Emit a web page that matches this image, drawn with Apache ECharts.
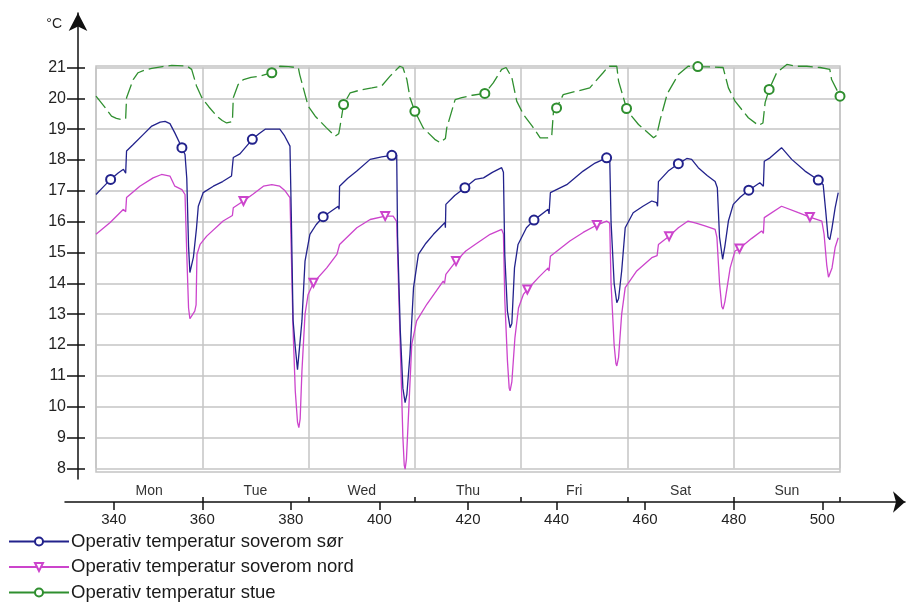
<!DOCTYPE html>
<html><head><meta charset="utf-8">
<script src="https://cdn.jsdelivr.net/npm/echarts@6/dist/echarts.min.js"></script>
<style>html,body{margin:0;padding:0;background:#fff}#c{width:907px;height:603px}</style>
</head><body><div id="c"></div>
<script>
const days = ['Mon','Tue','Wed','Thu','Fri','Sat','Sun'];
const dayCenters = [348,372,396,420,444,468,492];
const dayBounds = [360,384,408,432,456,480,504];
const xTickValues = [340,360,380,400,420,440,460,480,500];
const yTickValues = [8,9,10,11,12,13,14,15,16,17,18,19,20,21];

const sorHours = [336.0,337.6,339.3,341.0,342.2,342.7,342.9,344.4,346.7,348.6,350.5,351.6,352.7,353.8,355.4,356.1,356.5,356.9,357.2,357.6,358.0,358.7,359.1,360.2,362.5,364.6,366.6,366.8,367.0,368.5,371.3,372.8,374.2,377.5,378.6,379.8,380.1,380.5,381.0,381.5,381.9,382.5,383.2,384.3,385.7,387.3,390.7,390.9,391.0,392.8,394.9,397.9,400.5,402.8,403.9,404.1,404.7,405.3,405.8,406.2,406.9,407.7,408.8,410.5,412.2,414.8,414.9,415.0,417.0,419.3,421.6,423.5,425.5,427.6,428.0,428.3,428.9,429.5,429.9,430.5,431.3,433.2,434.9,438.1,438.3,438.6,442.3,446.0,448.7,451.3,452.0,452.3,453.0,453.6,454.0,454.7,455.5,457.3,459.5,461.5,462.6,462.8,463.0,465.2,467.5,469.4,470.5,472.0,474.0,475.8,476.3,476.8,477.5,478.0,478.8,479.9,481.5,483.4,485.9,486.7,486.9,488.2,490.8,493.1,496.1,499.1,500.2,500.8,501.3,501.7,502.2,502.9,503.6];
const sorTemps = [16.88,17.12,17.37,17.58,17.70,17.57,18.29,18.50,18.83,19.10,19.23,19.25,19.18,18.88,18.40,18.18,17.40,15.20,14.35,14.40,14.85,15.80,16.50,16.94,17.15,17.30,17.48,17.43,18.08,18.20,18.67,18.85,19.00,19.00,18.78,18.45,16.20,12.80,11.93,11.20,11.25,12.78,14.72,15.59,15.90,16.16,16.50,16.40,17.15,17.40,17.64,18.02,18.10,18.15,18.15,15.50,12.50,10.60,10.13,10.40,11.70,13.86,14.94,15.30,15.59,15.97,15.80,16.56,16.85,17.10,17.37,17.42,17.60,17.75,17.60,14.94,13.10,12.56,12.70,14.50,15.26,15.80,16.05,16.40,16.25,16.94,17.20,17.64,17.90,18.07,18.07,16.00,14.00,13.37,13.50,14.40,15.80,16.29,16.50,16.67,16.62,16.50,17.30,17.64,17.88,18.05,18.02,17.75,17.50,17.30,17.10,15.50,14.78,15.20,16.02,16.56,16.80,17.02,17.26,17.15,17.96,18.07,18.40,18.02,17.64,17.35,17.20,16.30,15.50,15.42,15.80,16.45,16.94];
const sorMarkers = [339.3,355.4,371.3,387.3,402.8,419.3,434.9,451.3,467.5,483.4,499.1];

const nordHours = [336.0,339.2,342.2,342.7,342.9,345.9,348.9,350.8,352.7,353.8,355.4,356.1,356.5,356.9,357.2,357.6,358.3,358.6,358.8,359.5,361.0,364.7,366.8,367.0,369.3,371.5,373.8,375.7,377.5,378.7,379.8,380.1,380.5,381.0,381.5,381.8,382.1,382.5,383.2,383.9,385.1,388.1,390.4,390.7,391.0,394.9,397.9,401.3,403.1,403.9,404.2,404.8,405.3,405.6,405.8,406.1,406.5,407.3,408.4,410.7,414.4,414.7,415.0,417.3,419.5,421.6,425.0,427.6,428.0,428.3,428.9,429.3,429.5,429.9,430.6,431.4,432.5,433.4,436.0,438.1,438.3,438.6,443.0,446.0,449.1,451.3,452.0,452.3,453.0,453.4,453.6,454.0,454.7,455.5,458.1,461.5,462.7,462.9,463.0,465.4,467.5,469.7,471.5,473.5,475.8,476.2,476.8,477.3,477.6,478.0,479.2,480.3,481.3,484.0,486.3,486.7,486.9,490.8,494.6,497.2,499.9,500.4,501.0,501.4,501.7,502.2,502.9,503.6];
const nordTemps = [15.59,15.97,16.40,16.32,16.78,17.15,17.42,17.53,17.48,17.15,17.04,16.88,14.94,13.20,12.85,12.83,13.10,13.30,14.94,15.26,15.53,16.02,16.20,16.45,16.67,16.90,17.15,17.20,17.15,17.00,16.78,15.00,12.50,10.50,9.50,9.32,9.60,11.15,13.00,13.64,14.02,14.50,14.94,14.88,15.26,15.80,16.07,16.18,16.18,16.00,14.50,11.50,9.00,8.10,7.97,8.30,9.53,12.02,12.78,13.32,14.07,14.00,14.29,14.72,15.05,15.26,15.59,15.75,15.60,13.50,11.50,10.60,10.51,10.80,12.24,13.20,13.64,13.80,14.20,14.50,14.40,14.88,15.37,15.65,15.89,16.02,15.95,14.00,12.00,11.40,11.32,11.60,13.00,13.86,14.40,14.83,14.90,14.88,15.26,15.53,15.80,16.02,15.95,15.86,15.75,15.50,14.00,13.25,13.16,13.40,14.50,15.05,15.13,15.45,15.70,15.62,16.13,16.50,16.29,16.15,16.02,15.60,14.60,14.20,14.18,14.50,15.16,15.48];
const nordMarkers = [369.3,385.1,401.3,417.3,433.4,449.1,465.4,481.3,497.2];

const stueHours = [336.0,337.8,339.5,340.6,341.8,342.7,342.9,344.4,345.5,347.0,348.6,351.0,353.1,356.5,357.6,358.7,359.9,361.5,363.3,364.5,365.5,366.8,367.0,368.1,369.3,371.0,373.0,375.7,377.5,379.5,381.7,382.0,383.9,385.5,388.0,390.0,390.8,391.0,391.9,393.4,396.0,398.3,400.5,402.4,404.6,405.3,406.2,406.9,408.0,409.9,412.5,413.7,414.9,415.2,417.1,418.6,421.0,423.8,425.7,427.6,428.6,429.9,431.0,432.5,434.5,436.3,438.0,438.9,439.3,440.0,441.5,444.5,447.5,450.5,451.7,453.6,454.0,455.8,456.5,458.5,461.9,462.6,463.4,465.0,467.5,469.7,471.9,475.0,477.6,478.8,480.3,483.3,485.6,486.6,487.1,488.0,489.7,492.0,494.0,496.5,499.5,501.7,502.1,504.0];
const stueTemps = [20.07,19.75,19.42,19.35,19.31,19.35,20.02,20.61,20.83,20.92,20.97,21.03,21.07,21.05,20.94,20.40,20.02,19.72,19.42,19.28,19.20,19.25,20.02,20.45,20.61,20.68,20.72,20.83,21.04,21.03,20.99,20.77,19.75,19.42,19.05,18.77,18.85,18.99,19.80,20.18,20.28,20.34,20.40,20.72,21.04,21.00,20.61,20.02,19.58,19.04,18.67,18.56,18.70,19.04,19.96,20.02,20.10,20.16,20.50,20.94,21.00,20.67,19.91,19.48,19.10,18.72,18.72,18.77,19.58,19.69,20.12,20.23,20.34,20.83,21.04,21.04,20.56,19.67,19.50,19.15,18.72,18.80,19.31,20.15,20.77,21.04,21.03,21.02,21.00,20.34,19.91,19.37,19.12,19.20,19.87,20.29,20.83,21.10,21.04,21.04,21.00,20.94,20.61,20.07];
const stueMarkers = [375.7,391.9,408.0,423.8,440.0,455.8,471.9,488.0,504.0];

const names = ['Operativ temperatur soverom sør','Operativ temperatur soverom nord','Operativ temperatur stue'];
const colors = ['#22228c','#cc44cc','#2f8f2f'];

function build(hours, temps, markers) {
  const m = new Set(markers.map(v => v.toFixed(1)));
  return hours.map((h, i) => m.has(h.toFixed(1)) ? {value: [h, temps[i]]} : {value: [h, temps[i]], symbol: 'none'});
}

const FONT = 'Liberation Sans, Arial, sans-serif';
const gridLine = {color: '#c4c4c4', width: 1.5};
const axisCol = '#111';

function lineSeries(idx, data, symbol, size, extra) {
  return Object.assign({
    type: 'line', name: names[idx], xAxisIndex: 0, yAxisIndex: 0, data: data,
    symbol: symbol, symbolSize: size, showSymbol: true, showAllSymbol: true,
    lineStyle: {color: colors[idx], width: 1.3},
    itemStyle: {color: colors[idx], borderColor: colors[idx], borderWidth: 1.3},
    clip: false, silent: true, animation: false, emphasis: {disabled: true}
  }, extra || {});
}

const chart = echarts.init(document.getElementById('c'), null, {renderer: 'canvas'});
chart.setOption({
  backgroundColor: '#fff',
  animation: false,
  textStyle: {fontFamily: FONT},
  grid: [
    {left: 96, top: 67.5, width: 744, height: 400.8},
    {left: 96, top: 66, width: 744, height: 406, show: true, borderColor: '#c4c4c4', borderWidth: 1.5, backgroundColor: 'transparent'},
    {left: 65, right: 2, top: 400, bottom: 101},
    {left: 78, width: 10, top: 13, bottom: 124}
  ],
  xAxis: [
    {gridIndex: 0, type: 'value', min: 336, max: 504, interval: 24,
     axisLine: {show: false}, axisTick: {show: false}, axisLabel: {show: false},
     splitLine: {show: true, lineStyle: gridLine}},
    {gridIndex: 1, type: 'value', min: 0, max: 1, show: false},
    {gridIndex: 2, type: 'value', min: 329, max: 518.68, position: 'bottom',
     axisLine: {show: true, onZero: false, symbol: ['none', 'arrow'], symbolSize: [16, 12], lineStyle: {color: axisCol, width: 1.5}},
     axisTick: {show: true, customValues: xTickValues, length: 8, lineStyle: {color: axisCol, width: 1.5}},
     axisLabel: {show: true, customValues: xTickValues, fontSize: 15, color: '#222', margin: 10, fontFamily: FONT},
     splitLine: {show: false}},
    {gridIndex: 2, type: 'value', min: 329, max: 518.68, position: 'bottom', offset: 0,
     axisLine: {show: false, onZero: false},
     axisTick: {show: true, inside: true, customValues: dayBounds, length: 5, lineStyle: {color: axisCol, width: 1.5}},
     axisLabel: {show: true, inside: true, customValues: dayCenters, margin: 4, fontSize: 14, color: '#333', fontFamily: FONT,
       formatter: function (v) { return days[Math.round((v - dayCenters[0]) / 24)]; }},
     splitLine: {show: false}},
    {gridIndex: 3, type: 'value', min: 0, max: 1, show: false}
  ],
  yAxis: [
    {gridIndex: 0, type: 'value', min: 8, max: 21, interval: 1,
     axisLine: {show: false}, axisTick: {show: false}, axisLabel: {show: false},
     splitLine: {show: true, lineStyle: gridLine}},
    {gridIndex: 1, type: 'value', min: 0, max: 1, show: false},
    {gridIndex: 2, type: 'value', min: 0, max: 1, show: false},
    {gridIndex: 3, type: 'value', min: 7.653, max: 22.768, position: 'left',
     axisLine: {show: true, onZero: false, symbol: ['none', 'arrow'], symbolSize: [14, 18], lineStyle: {color: axisCol, width: 1.5}},
     axisTick: {show: true, customValues: yTickValues, length: 11, lineStyle: {color: axisCol, width: 1.5}},
     axisLabel: {show: true, customValues: yTickValues, fontSize: 16, color: '#222', margin: 12, fontFamily: FONT},
     splitLine: {show: false},
     name: '°C', nameLocation: 'end', nameGap: -18,
     nameTextStyle: {fontSize: 14, color: '#222', align: 'right', verticalAlign: 'bottom', padding: [0, 16, 0, 0], fontFamily: FONT}},
    {gridIndex: 3, type: 'value', min: 7.653, max: 22.768, position: 'left', offset: 0,
     axisLine: {show: false, onZero: false},
     axisTick: {show: true, inside: true, customValues: yTickValues, length: 7, lineStyle: {color: axisCol, width: 1.5}},
     axisLabel: {show: false}, splitLine: {show: false}}
  ],
  legend: {
    orient: 'vertical', left: 8, top: 532, height: 71, padding: 0, itemWidth: 60, itemHeight: 10, itemGap: 6.5,
    data: [
      {name: names[0]},
      {name: names[1]},
      {name: names[2], lineStyle: {type: 'solid'}}
    ],
    selectedMode: false,
    textStyle: {fontSize: 18.5, lineHeight: 18, color: '#1a1a1a', fontFamily: FONT, padding: [0, 0, 0, -3]}
  },
  series: [
    lineSeries(2, build(stueHours, stueTemps, stueMarkers), 'emptyCircle', 9,
      {lineStyle: {color: colors[2], width: 1.3, type: [15, 5]}}),
    lineSeries(1, build(nordHours, nordTemps, nordMarkers), 'emptyTriangle', 8, {symbolRotate: 180}),
    lineSeries(0, build(sorHours, sorTemps, sorMarkers), 'emptyCircle', 9)
  ]
});
</script></body></html>
